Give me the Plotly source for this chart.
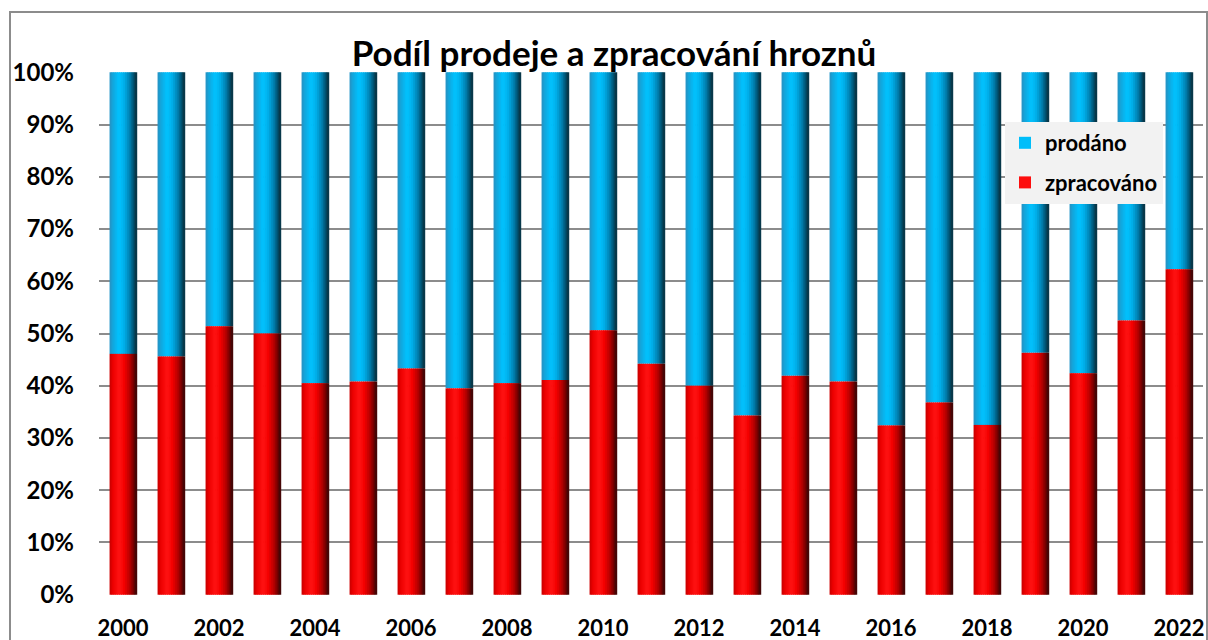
import plotly.graph_objects as go

# ---- data ----
years = list(range(2000, 2023))
zpracovano = [46.1, 45.6, 51.4, 50.0, 40.5, 40.8, 43.3, 39.5, 40.5, 41.1, 50.6, 44.2,
              40.0, 34.3, 41.9, 40.8, 32.4, 36.8, 32.5, 46.3, 42.4, 52.5, 62.3]
prodano = [round(100 - v, 1) for v in zpracovano]
tick_years = [y for y in years if y % 2 == 0]
y_ticks = list(range(0, 101, 10))

TITLE = "Podíl prodeje a zpracování hroznů"
FONT = "Lato"

# ---- styling helpers (gradient to imitate cylinder shading) ----
def hex2rgb(h):
    h = h.lstrip("#")
    return tuple(int(h[i:i + 2], 16) for i in (0, 2, 4))

def interp(stops, t):
    for (p0, c0), (p1, c1) in zip(stops, stops[1:]):
        if p0 <= t <= p1:
            f = 0 if p1 == p0 else (t - p0) / (p1 - p0)
            a, b = hex2rgb(c0), hex2rgb(c1)
            r = [round(a[k] + (b[k] - a[k]) * f) for k in range(3)]
            return "rgb(%d,%d,%d)" % tuple(r)
    return stops[-1][1]

blue_stops = [(0.0, "#2a8fbf"), (0.12, "#12a6dc"), (0.35, "#00c2ff"), (0.55, "#00aee8"),
              (0.75, "#0080b0"), (0.9, "#00506e"), (1.0, "#0c2a36")]
red_stops = [(0.0, "#c40000"), (0.12, "#ec0000"), (0.35, "#ff1212"), (0.55, "#f40000"),
             (0.75, "#b80000"), (0.9, "#720000"), (1.0, "#2e0a0a")]

BAR_W = 0.56
N = 14
sw = BAR_W / N

fig = go.Figure()

def add_series(name, values, base, stops, legend_slice):
    for i in range(N):
        t = (i + 0.5) / N
        fig.add_trace(go.Bar(
            x=years, y=values, base=base,
            width=sw * 1.4, offset=-BAR_W / 2 + i * sw,
            marker=dict(color=interp(stops, t), line=dict(width=0)),
            name=name, legendgroup=name,
            showlegend=(i == legend_slice),
            hovertemplate="%{x}: " + name + " %{y:.1f}%<extra></extra>",
        ))

add_series("prodáno", prodano, zpracovano, blue_stops, 5)
add_series("zpracováno", zpracovano, [0] * len(years), red_stops, 5)

fig.update_layout(
    width=1208, height=640,
    barmode="overlay",
    paper_bgcolor="white", plot_bgcolor="white",
    margin=dict(l=99, r=5, t=72, b=45, autoexpand=False),
    font=dict(family=FONT, size=22, color="black", weight="bold"),
    title=dict(text="<b>" + TITLE + "</b>", x=614 / 1208, xref="container", xanchor="center",
               y=1 - 54 / 640, yref="container", yanchor="middle",
               font=dict(family=FONT, size=35, color="black")),
    showlegend=True,
    legend=dict(x=(1005 - 99) / 1104, y=(595 - 122) / 523, xanchor="left", yanchor="top",
                bgcolor="#f2f2f2", font=dict(family=FONT, size=22, color="black", weight="bold"),
                traceorder="grouped", tracegroupgap=8, itemclick=False,
                itemwidth=30),
    xaxis=dict(range=[1999.5, 2022.5], tickmode="array", tickvals=tick_years,
               ticktext=[str(y) for y in tick_years], showgrid=False, zeroline=False,
               showline=False, ticks="", ticklabelstandoff=18, automargin=False,
               tickfont=dict(family=FONT, size=22, weight="bold")),
    yaxis=dict(range=[-0.05, 100.05], tickmode="array", tickvals=y_ticks,
               ticktext=["%d%%" % v for v in y_ticks], showgrid=True,
               gridcolor="#8c8c8c", gridwidth=2, zeroline=False, showline=False,
               ticks="", ticklabelstandoff=24, automargin=False,
               tickfont=dict(family=FONT, size=24, weight="bold")),
    shapes=[dict(type="rect", xref="paper", yref="paper",
                 x0=(10 - 99) / 1104, x1=(1207 - 99) / 1104,
                 y0=(595 - 660) / 523, y1=(595 - 12) / 523,
                 line=dict(color="#8c8c8c", width=2), fillcolor="rgba(0,0,0,0)", layer="below")],
)

fig.write_html("out.html", config={"displayModeBar": False},
               post_script="document.body.style.margin='0';")
